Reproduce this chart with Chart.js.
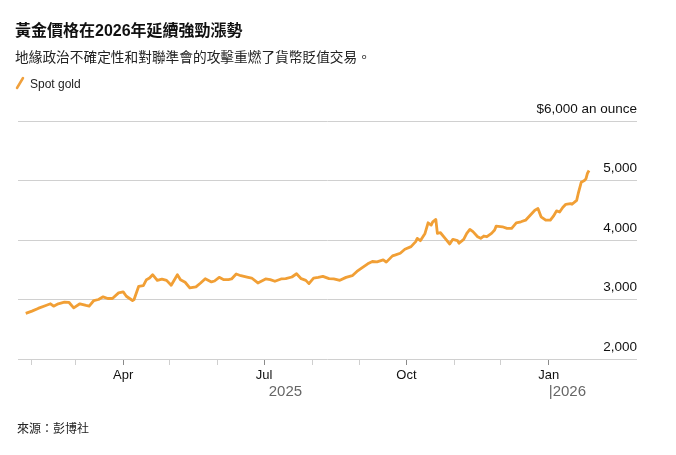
<!DOCTYPE html>
<html>
<head>
<meta charset="utf-8">
<script src="https://cdn.jsdelivr.net/npm/chart.js@4.4.1/dist/chart.umd.min.js"></script>
<style>
    body {
        margin: 0;
        background: #fff;
        font-family: "Liberation Sans", Arial, "Noto Sans CJK TC", sans-serif;
    }
    #wrap {
        position: relative;
        width: 676px;
        height: 455px;
        overflow: hidden;
    }
    #wrap canvas {
        position: absolute;
        left: 0;
        top: 0;
    }
    .txt {
        position: absolute;
        left: 15px;
        white-space: nowrap;
        font-family: "Liberation Sans", Arial, "Noto Sans CJK TC", sans-serif;
    }
    #title {
        top: 21px;
        font-size: 16px;
        line-height: 20px;
        font-weight: bold;
        color: #111;
    }
    #subtitle {
        top: 49px;
        font-size: 13.7px;
        line-height: 18px;
        color: #222;
    }
    #legend {
        top: 76px;
        font-size: 12px;
        line-height: 16px;
        color: #222;
    }
    #legend svg {
        vertical-align: -2px;
        margin-right: 5px;
    }
    #source {
        top: 421px;
        left: 17px;
        font-size: 12px;
        line-height: 16px;
        color: #222;
    }
</style>
</head>
<body>
<div id="wrap">
    <canvas id="goldChart" width="676" height="455"></canvas>
    <div class="txt" id="title">黃金價格在2026年延續強勁漲勢</div>
    <div class="txt" id="subtitle">地緣政治不確定性和對聯準會的攻擊重燃了貨幣貶值交易。</div>
    <div class="txt" id="legend"><svg width="10" height="14"><line x1="2" y1="12" x2="8" y2="2" stroke="#f0a03c" stroke-width="2.5" stroke-linecap="round"/></svg>Spot gold</div>
    <div class="txt" id="source">來源：彭博社</div>
</div>
<script>
const seriesLabel = 'Spot gold';

const dates = [
    '2025-01-28', '2025-02-01', '2025-02-05', '2025-02-10', '2025-02-13', '2025-02-15', '2025-02-18', '2025-02-22', '2025-02-25', '2025-02-28',
    '2025-03-04', '2025-03-08', '2025-03-10', '2025-03-13', '2025-03-16', '2025-03-19', '2025-03-22', '2025-03-25', '2025-03-29',
    '2025-04-01', '2025-04-03', '2025-04-07', '2025-04-08', '2025-04-11', '2025-04-14', '2025-04-16', '2025-04-18', '2025-04-20', '2025-04-23', '2025-04-26', '2025-04-29',
    '2025-05-02', '2025-05-06', '2025-05-08', '2025-05-11', '2025-05-14', '2025-05-18', '2025-05-21', '2025-05-24', '2025-05-28', '2025-05-30',
    '2025-06-02', '2025-06-05', '2025-06-08', '2025-06-10', '2025-06-13', '2025-06-16', '2025-06-20', '2025-06-23', '2025-06-27',
    '2025-07-02', '2025-07-05', '2025-07-08', '2025-07-12', '2025-07-15', '2025-07-19', '2025-07-22', '2025-07-25', '2025-07-28', '2025-07-30',
    '2025-08-02', '2025-08-05', '2025-08-08', '2025-08-12', '2025-08-15', '2025-08-19', '2025-08-23', '2025-08-27', '2025-08-30',
    '2025-09-02', '2025-09-06', '2025-09-09', '2025-09-12', '2025-09-16', '2025-09-18', '2025-09-22', '2025-09-24', '2025-09-27', '2025-09-30',
    '2025-10-04', '2025-10-07', '2025-10-08', '2025-10-10', '2025-10-13', '2025-10-15', '2025-10-17', '2025-10-18', '2025-10-20', '2025-10-21', '2025-10-23', '2025-10-26', '2025-10-29', '2025-10-31',
    '2025-11-03', '2025-11-04', '2025-11-07', '2025-11-09', '2025-11-11', '2025-11-13', '2025-11-16', '2025-11-18', '2025-11-20', '2025-11-22', '2025-11-25', '2025-11-27', '2025-11-28',
    '2025-12-02', '2025-12-05', '2025-12-08', '2025-12-11', '2025-12-14', '2025-12-17', '2025-12-20', '2025-12-23', '2025-12-25', '2025-12-27', '2025-12-30',
    '2026-01-02', '2026-01-04', '2026-01-06', '2026-01-08', '2026-01-10', '2026-01-12', '2026-01-15', '2026-01-16', '2026-01-19', '2026-01-20', '2026-01-22', '2026-01-24', '2026-01-25', '2026-01-26', '2026-01-27'
];

const prices = [
    2767, 2805, 2850, 2900, 2928, 2888, 2928, 2955, 2950, 2860,
    2928, 2900, 2890, 2983, 3000, 3045, 3017, 3017, 3111,
    3128, 3055, 2983, 3000, 3222, 3233, 3333, 3361, 3417, 3322, 3344, 3322,
    3239, 3417, 3333, 3290, 3195, 3212, 3278, 3350, 3295, 3311,
    3372, 3333, 3333, 3345, 3428, 3400, 3378, 3361, 3278,
    3345, 3333, 3306, 3345, 3350, 3378, 3433, 3350, 3322, 3267,
    3361, 3372, 3389, 3350, 3345, 3322, 3372, 3400, 3472,
    3528, 3600, 3639, 3633, 3667, 3628, 3733, 3750, 3778, 3845,
    3889, 3972, 4028, 3989, 4111, 4289, 4250, 4306, 4345, 4111, 4122, 4028, 3933, 4011,
    3989, 3945, 4011, 4111, 4178, 4140, 4055, 4028, 4067, 4055, 4111, 4167, 4233,
    4222, 4195, 4195, 4289, 4306, 4333, 4417, 4500, 4528, 4389, 4333,
    4333, 4400, 4489, 4470, 4545, 4600, 4611, 4600, 4667, 4778, 4972, 5000, 5028, 5122, 5167
];

// month tick marks, only quarters get a label
const monthTicks = ['2025-02-01', '2025-03-01', '2025-04-01', '2025-05-01', '2025-06-01', '2025-07-01',
    '2025-08-01', '2025-09-01', '2025-10-01', '2025-11-01', '2025-12-01', '2026-01-01'];
const monthLabels = ['', '', 'Apr', '', '', 'Jul', '', '', 'Oct', '', '', 'Jan'];

const yearTicks = ['2025-07-04', '2026-01-01'];
const yearLabels = ['2025', '|2026'];

const priceTicks = [2000, 3000, 4000, 5000, 6000];
const priceLabels = ['2,000', '3,000', '4,000', '5,000', '$6,000 an ounce'];

const axisStart = '2025-01-23';
const axisEnd = '2026-02-27';

function toDay(str) {
    const p = str.split('-');
    return (Date.UTC(+p[0], +p[1] - 1, +p[2]) - Date.UTC(2025, 0, 1)) / 86400000;
}

function setLineData() {
    const points = dates.map((d, i) => ({ x: toDay(d), y: prices[i] }));
    return {
        datasets: [{
            label: seriesLabel,
            data: points,
            borderColor: '#f19f35',
            borderWidth: 2.8,
            borderJoinStyle: 'round',
            pointRadius: 0,
            tension: 0,
            fill: false
        }]
    };
}

function drawLineChart(lineData, el) {
    const tickFont = { family: '"Liberation Sans", Arial, sans-serif', size: 13 };
    const config = {
        type: 'line',
        data: lineData,
        options: {
            responsive: false,
            animation: false,
            devicePixelRatio: 1,
            layout: {
                padding: { left: 18, right: 39, top: 121, bottom: 52 }
            },
            scales: {
                x: {
                    type: 'linear',
                    position: 'bottom',
                    weight: 0,
                    min: toDay(axisStart),
                    max: toDay(axisEnd),
                    afterBuildTicks: (scale) => {
                        scale.ticks = monthTicks.map(d => ({ value: toDay(d) }));
                    },
                    afterFit: (scale) => { scale.height = 24; },
                    grid: {
                        drawOnChartArea: false,
                        tickLength: 6,
                        color: (ctx) => monthLabels[ctx.index] ? '#8a8a8a' : '#cfcfcf'
                    },
                    border: { display: false },
                    ticks: {
                        autoSkip: false,
                        maxRotation: 0,
                        padding: 3,
                        color: '#111',
                        font: tickFont,
                        callback: (value, index) => monthLabels[index]
                    }
                },
                x2: {
                    type: 'linear',
                    position: 'bottom',
                    weight: 1,
                    min: toDay(axisStart),
                    max: toDay(axisEnd),
                    afterBuildTicks: (scale) => {
                        scale.ticks = yearTicks.map(d => ({ value: toDay(d) }));
                    },
                    afterFit: (scale) => { scale.height = 20; },
                    grid: { display: false, drawTicks: false },
                    border: { display: false },
                    ticks: {
                        autoSkip: false,
                        maxRotation: 0,
                        align: 'start',
                        padding: 0,
                        color: '#666',
                        font: { family: '"Liberation Sans", Arial, sans-serif', size: 15 },
                        callback: (value, index) => yearLabels[index]
                    }
                },
                y: {
                    position: 'right',
                    min: 2000,
                    max: 6000,
                    afterBuildTicks: (scale) => {
                        scale.ticks = priceTicks.map(v => ({ value: v }));
                    },
                    afterFit: (scale) => { scale.width = 0; },
                    grid: {
                        color: '#d0d0d0',
                        lineWidth: 1,
                        drawTicks: false
                    },
                    border: { display: false },
                    ticks: {
                        mirror: true,
                        padding: 0,
                        labelOffset: -12,
                        color: '#111',
                        font: { family: '"Liberation Sans", Arial, sans-serif', size: 13.5 },
                        callback: (value) => priceLabels[priceTicks.indexOf(value)]
                    }
                }
            },
            plugins: {
                legend: { display: false },
                tooltip: { enabled: false }
            }
        }
    };

    const goldChart = new Chart(el, config);
}

drawLineChart(setLineData(), document.getElementById('goldChart'));
</script>
</body>
</html>
